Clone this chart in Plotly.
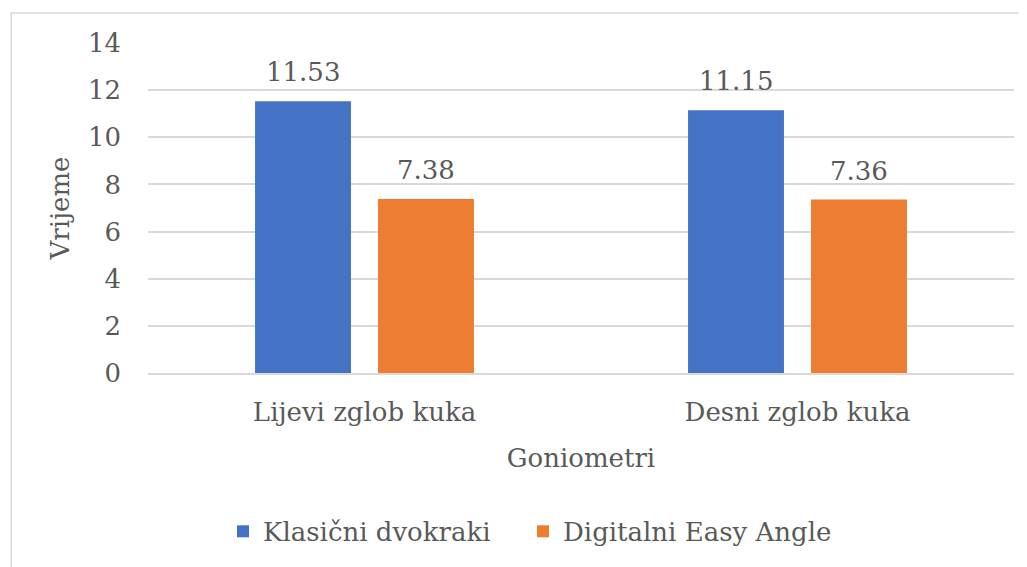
import plotly.graph_objects as go

categories = ["Lijevi zglob kuka", "Desni zglob kuka"]
series_names = ["Klasični dvokraki", "Digitalni Easy Angle"]
klasicni = [11.53, 11.15]
digitalni = [7.38, 7.36]
colors = ["#4472C4", "#ED7D31"]
y_ticks = [0, 2, 4, 6, 8, 10, 12, 14]

FONT = "DejaVu Serif"
TXT = "#595959"

fig = go.Figure()
for name, vals, col, lg in zip(series_names, [klasicni, digitalni], colors, ["legend", "legend2"]):
    fig.add_trace(go.Bar(x=categories, y=vals, name=name, marker_color=col,
                         marker_line_width=0, legend=lg))

# data labels
for i, vals in enumerate([klasicni, digitalni]):
    shift = -61.5 if i == 0 else 61.5
    for c, v in zip(categories, vals):
        fig.add_annotation(x=c, y=v, text=f"{v:.2f}", showarrow=False,
                           xshift=shift, yshift=12, yanchor="bottom",
                           font=dict(family=FONT, size=26, color=TXT))

legend_common = dict(orientation="h", y=-0.48, yanchor="middle", xanchor="left",
                     font=dict(family=FONT, size=26, color=TXT), bgcolor="rgba(0,0,0,0)")

fig.update_layout(
    width=1019, height=559,
    margin=dict(l=140, r=13, t=35, b=194),
    paper_bgcolor="white", plot_bgcolor="white",
    barmode="group", bargap=0.432, bargroupgap=0.22,
    font=dict(family=FONT, color=TXT, size=26),
    showlegend=True,
    legend=dict(x=0.0866, **legend_common),
    legend2=dict(x=0.433, **legend_common),
    xaxis=dict(title=dict(text="Goniometri", font=dict(family=FONT, size=26, color=TXT), standoff=23),
               tickfont=dict(family=FONT, size=26, color=TXT), showline=True, linecolor="#d9d9d9",
               linewidth=1.5, ticks="", showgrid=False, ticklabelstandoff=15),
    yaxis=dict(title=dict(text="Vrijeme", font=dict(family=FONT, size=26, color=TXT), standoff=10),
               range=[0, 14], tickvals=y_ticks, tickfont=dict(family=FONT, size=26, color=TXT),
               showgrid=True, gridcolor="#d9d9d9", gridwidth=1.5, zeroline=False,
               ticks="", ticklabelstandoff=26, showline=False),
    shapes=[dict(type="rect", xref="paper", yref="paper",
                 x0=-0.158, x1=1.05, y0=-0.7, y1=1.091,
                 line=dict(color="#d9d9d9", width=1.5), fillcolor="rgba(0,0,0,0)",
                 layer="below")],
)

fig.write_html("out.html")
